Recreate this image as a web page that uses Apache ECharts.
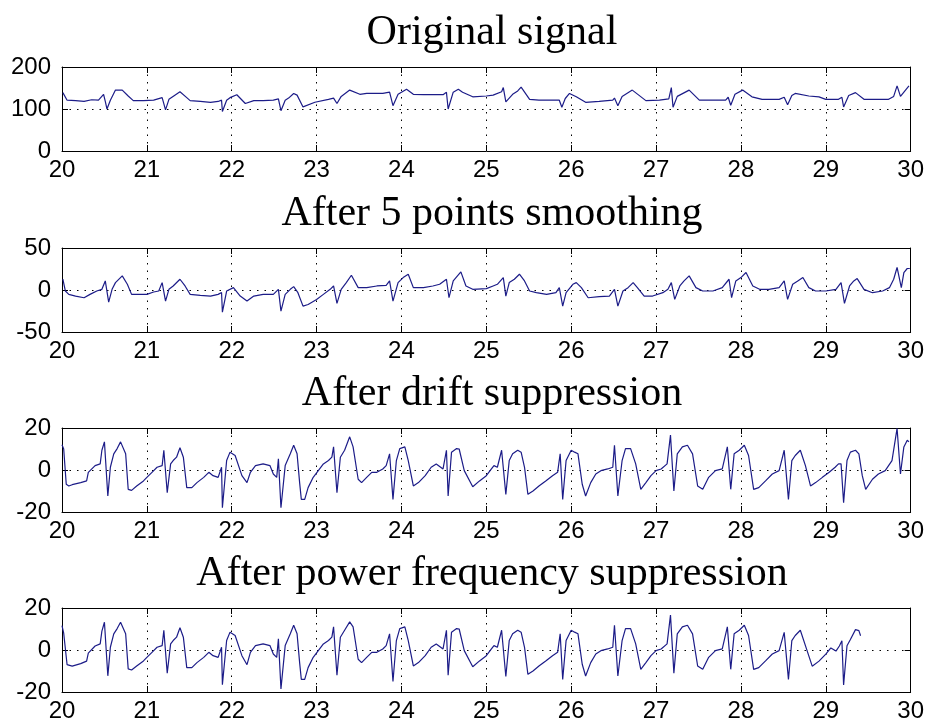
<!DOCTYPE html>
<html>
<head>
<meta charset="utf-8">
<script src="https://cdn.jsdelivr.net/npm/echarts@6/dist/echarts.min.js"></script>
<style>
  html, body { margin: 0; padding: 0; background: #fff; }
  #chart { width: 927px; height: 726px; }
</style>
</head>
<body>
<div id="chart"></div>
<script>
// panel titles and axis ranges [min, max, interval]
const titles = ['Original signal', 'After 5 points smoothing', 'After drift suppression', 'After power frequency suppression']
const xRange = [20, 30, 1]
const yRanges = [[0, 200, 100], [-50, 50, 50], [-20, 20, 20], [-20, 20, 20]]

// [time (s), amplitude]
const originalSignal = [
  [20.01, 139], [20.06, 121], [20.16, 120], [20.26, 118], [20.35, 122], [20.43, 121], [20.49, 135], [20.51, 118], [20.53, 100], [20.57, 121],
  [20.63, 145], [20.71, 145], [20.78, 131], [20.84, 120], [20.96, 120], [21.08, 121], [21.18, 127], [21.20, 131], [21.22, 98], [21.26, 123],
  [21.33, 133], [21.39, 141], [21.47, 127], [21.51, 120], [21.63, 118], [21.75, 116], [21.84, 118], [21.88, 121], [21.89, 94], [21.94, 121],
  [21.98, 127], [22.06, 134], [22.16, 113], [22.26, 120], [22.37, 120], [22.49, 121], [22.55, 124], [22.58, 96], [22.63, 121], [22.67, 126],
  [22.73, 137], [22.77, 133], [22.84, 105], [22.98, 116], [23.14, 123], [23.20, 126], [23.24, 113], [23.29, 130], [23.39, 145], [23.51, 135],
  [23.59, 137], [23.78, 137], [23.86, 140], [23.90, 108], [23.96, 135], [24.06, 147], [24.14, 135], [24.26, 134], [24.49, 134], [24.53, 140],
  [24.55, 100], [24.61, 140], [24.67, 147], [24.72, 140], [24.84, 129], [25.00, 131], [25.08, 133], [25.18, 141], [25.20, 151], [25.23, 117],
  [25.31, 135], [25.37, 143], [25.41, 152], [25.51, 123], [25.62, 121], [25.86, 121], [25.88, 125], [25.89, 104], [25.93, 125], [25.98, 137],
  [26.06, 129], [26.17, 116], [26.33, 118], [26.49, 121], [26.51, 126], [26.55, 108], [26.60, 130], [26.72, 145], [26.88, 120], [27.04, 121],
  [27.15, 124], [27.18, 151], [27.20, 104], [27.25, 130], [27.39, 145], [27.51, 121], [27.65, 121], [27.82, 121], [27.85, 128], [27.88, 109],
  [27.93, 135], [28.02, 145], [28.13, 129], [28.25, 123], [28.45, 123], [28.51, 128], [28.55, 110], [28.60, 132], [28.64, 137], [28.80, 131],
  [28.92, 129], [29.00, 123], [29.15, 123], [29.19, 128], [29.21, 105], [29.27, 132], [29.35, 139], [29.45, 123], [29.60, 123], [29.74, 123],
  [29.80, 130], [29.84, 155], [29.88, 130], [29.98, 155]
]

const smoothedSignal = [
  [20.01, 12.8], [20.04, -1.2], [20.08, -5.2], [20.16, -7.2], [20.26, -9.2], [20.33, -5.2], [20.41, -1.2], [20.47, 0.8], [20.51, 10.8], [20.55, -14.4],
  [20.59, 0.8], [20.63, 8.8], [20.71, 16.8], [20.77, 6.8], [20.82, -5.2], [20.92, -5.2], [21.00, -5.2], [21.08, -2.4], [21.14, -1.2], [21.18, 8.8],
  [21.22, -13.2], [21.26, 0.8], [21.31, 4.8], [21.39, 12.8], [21.45, 4.8], [21.51, -5.2], [21.63, -6.4], [21.75, -7.2], [21.84, -5.2], [21.88, -3],
  [21.89, -26.4], [21.94, -1.2], [22.02, 2.8], [22.10, -7.2], [22.18, -13.2], [22.26, -7.2], [22.37, -5.2], [22.49, -5.2], [22.55, 0.8], [22.58, -25.2],
  [22.63, -5.2], [22.69, 0.8], [22.73, 4], [22.78, -3.2], [22.84, -19.2], [22.90, -17.2], [23.00, -11.2], [23.08, -5.2], [23.16, 0.8], [23.20, 4.8],
  [23.24, -16], [23.29, 0.8], [23.35, 8.8], [23.41, 17.6], [23.49, 2.8], [23.59, 2.8], [23.71, 4.8], [23.82, 5.6], [23.86, 10.8], [23.90, -13.2],
  [23.96, 8.8], [24.02, 14.8], [24.08, 18.8], [24.14, 2.8], [24.26, 2.8], [24.37, 4.8], [24.45, 6.8], [24.53, 12.8], [24.56, -9.2], [24.61, 10.8],
  [24.70, 21.6], [24.76, 4.8], [24.84, 0.8], [25.00, 1.6], [25.08, 4.8], [25.13, 6.8], [25.20, 14.8], [25.23, -7.2], [25.27, 8.8], [25.33, 12.8],
  [25.39, 18.8], [25.45, 10.8], [25.51, -1.2], [25.59, -3.2], [25.71, -5.2], [25.82, -3.2], [25.86, 2.8], [25.90, -19.2], [25.94, -3.2], [26.02, 6.8],
  [26.06, 8.8], [26.12, 2.8], [26.20, -9.2], [26.33, -8], [26.45, -7.2], [26.51, 0.8], [26.55, -19.2], [26.61, -1.2], [26.67, 2.8], [26.73, 8.8],
  [26.78, 2.8], [26.86, -7.2], [26.96, -7.2], [27.08, -3.2], [27.14, 0.8], [27.18, 8.8], [27.22, -11.2], [27.28, 4.8], [27.33, 10.8], [27.39, 16.8],
  [27.47, 2.8], [27.55, -1.2], [27.67, -1.2], [27.78, 2.8], [27.86, 12.8], [27.89, -9.2], [27.94, 10.8], [28.00, 14.8], [28.06, 20.8], [28.14, 4.8],
  [28.22, 0.8], [28.33, 0.8], [28.45, 2.8], [28.51, 10.8], [28.55, -11.2], [28.61, 6.8], [28.67, 10.8], [28.73, 14.8], [28.80, 2.8], [28.88, -1.2],
  [29.00, -1.2], [29.12, 0.8], [29.18, 8.8], [29.22, -16], [29.28, 4.8], [29.33, 10.8], [29.37, 13.6], [29.45, 0.8], [29.55, -3.2], [29.67, -1.2],
  [29.75, 2.8], [29.80, 12.8], [29.84, 26.8], [29.89, 2.8], [29.92, 20.8], [29.96, 25.6], [29.99, 25.6]
]

const driftSignal = [
  [20.00, 12], [20.02, 10], [20.05, -6.8], [20.08, -7.6], [20.12, -7], [20.22, -6], [20.29, -5.2], [20.31, -1.1], [20.39, 2.1], [20.45, 2.9],
  [20.47, 9.4], [20.50, 13.4], [20.54, -12.4], [20.57, 1.3], [20.61, 7.7], [20.65, 10.2], [20.69, 13.4], [20.75, 7.7], [20.78, -9.2], [20.82, -9.7],
  [20.88, -7.6], [20.96, -5.2], [21.00, -3.5], [21.06, -1.1], [21.12, 1.3], [21.18, 2.1], [21.20, 9.4], [21.24, -10.8], [21.28, 2.9], [21.31, 4.5],
  [21.35, 6.1], [21.39, 10.6], [21.43, 6.1], [21.47, -8.4], [21.53, -8.4], [21.59, -6], [21.67, -3.5], [21.73, -1.1], [21.78, -2.7], [21.84, -3.5],
  [21.88, 1.3], [21.89, -18], [21.94, 4.5], [21.98, 8.5], [22.04, 6.9], [22.12, -2.7], [22.18, -6], [22.22, -1.1], [22.28, 2.1], [22.37, 2.9],
  [22.45, 2.1], [22.49, -1.9], [22.53, -3.5], [22.55, 5.3], [22.58, -18], [22.63, 2.1], [22.69, 7.7], [22.73, 11.8], [22.77, 7.7], [22.80, -6],
  [22.82, -14], [22.86, -14], [22.90, -8.4], [22.96, -3.5], [23.02, -0.3], [23.08, 2.9], [23.14, 4.5], [23.18, 6.1], [23.20, 11], [23.24, -10.8],
  [23.28, 6.1], [23.33, 9.4], [23.39, 15.8], [23.43, 11], [23.49, -4.4], [23.53, -6], [23.59, -3.5], [23.65, -1.1], [23.71, -1.1], [23.78, 0.5],
  [23.82, 2.1], [23.86, 7.7], [23.90, -14], [23.94, 4.5], [23.98, 10.2], [24.04, 11], [24.08, 4.5], [24.14, -7.6], [24.20, -6], [24.28, -2.7],
  [24.35, 1.3], [24.41, 2.9], [24.49, 0.5], [24.53, 9.4], [24.55, -12.4], [24.59, 8.5], [24.65, 10.2], [24.68, 10], [24.74, -0.3], [24.84, -8],
  [24.92, -5.2], [25.00, -2.7], [25.06, 0.5], [25.09, 2.1], [25.13, 1.3], [25.18, 9.4], [25.23, -11.6], [25.27, 4.5], [25.31, 7.7], [25.37, 9.4],
  [25.41, 8.5], [25.45, 1.3], [25.49, -11.6], [25.55, -10], [25.62, -7.6], [25.70, -5.2], [25.78, -2.7], [25.84, -1.1], [25.87, 7.7], [25.90, -14],
  [25.94, 4.5], [26.00, 9.4], [26.04, 8.5], [26.08, 7.7], [26.13, -6.8], [26.17, -12.4], [26.23, -6], [26.29, -1.9], [26.35, -0.3], [26.43, 0.5],
  [26.49, 1.3], [26.51, 11.8], [26.55, -12.4], [26.60, 4.5], [26.64, 10.2], [26.70, 10.2], [26.76, 2.9], [26.82, -9.2], [26.88, -6], [26.94, -2.7],
  [27.00, -0.3], [27.06, 0.5], [27.13, 2.9], [27.17, 16.6], [27.21, -10], [27.25, 7.7], [27.31, 11], [27.37, 11.8], [27.43, 7.7], [27.49, -7.6],
  [27.55, -9.2], [27.62, -3.5], [27.70, -0.3], [27.78, 0.5], [27.84, 11], [27.88, -9.2], [27.92, 7.7], [27.98, 9.4], [28.04, 11.8], [28.09, 6.9],
  [28.15, -9.2], [28.21, -8.4], [28.29, -5.2], [28.37, -1.9], [28.45, -0.3], [28.51, 9.4], [28.56, -14], [28.60, 4.5], [28.64, 6.9], [28.70, 9.4],
  [28.76, 2.1], [28.82, -7.6], [28.88, -6], [28.96, -3.5], [29.04, -1.1], [29.11, 1.3], [29.15, 2.9], [29.18, 2.9], [29.21, -15.6], [29.25, 4.5],
  [29.29, 8.5], [29.35, 9.4], [29.39, 7.7], [29.43, -2.7], [29.47, -9.2], [29.55, -4.4], [29.62, -1.9], [29.70, -0.3], [29.78, 4.5], [29.84, 19.8],
  [29.88, -1.9], [29.92, 11], [29.96, 14.2], [29.98, 13.4]
]

const powerSignal = [
  [20.00, 11.6], [20.02, 8], [20.06, -7], [20.12, -7.7], [20.22, -6.5], [20.29, -5.3], [20.31, -1.5], [20.39, 1.9], [20.45, 2.9], [20.47, 9],
  [20.50, 13.2], [20.54, -12.3], [20.57, 1.3], [20.61, 7.7], [20.65, 10.2], [20.69, 13.2], [20.75, 7.7], [20.78, -9], [20.82, -9.5], [20.88, -7.6],
  [20.96, -5.2], [21.00, -3.5], [21.06, -1.1], [21.12, 1.3], [21.18, 2.1], [21.20, 9.4], [21.24, -11], [21.28, 2.9], [21.31, 4.5], [21.35, 6.1],
  [21.39, 10.6], [21.43, 6.1], [21.47, -8.4], [21.53, -8.4], [21.59, -6], [21.67, -3.5], [21.73, -1.1], [21.78, -2.7], [21.84, -3.5], [21.88, 1.3],
  [21.89, -16.5], [21.94, 4.5], [21.98, 8.5], [22.04, 6.9], [22.12, -2.7], [22.18, -7], [22.22, -1.1], [22.28, 2.1], [22.37, 2.9], [22.45, 2.1],
  [22.49, -1.9], [22.53, -3.5], [22.55, 5.3], [22.58, -18.5], [22.63, 2.1], [22.69, 7.7], [22.73, 11.8], [22.77, 7.7], [22.80, -6], [22.82, -14],
  [22.86, -14], [22.90, -8.4], [22.96, -3.5], [23.02, -0.3], [23.08, 2.9], [23.14, 4.5], [23.18, 6.1], [23.20, 11], [23.24, -12], [23.28, 6.1],
  [23.33, 9.4], [23.39, 13.4], [23.43, 11], [23.49, -4.4], [23.53, -6], [23.59, -3.5], [23.65, -1.1], [23.71, -1.1], [23.78, 0.5], [23.82, 2.1],
  [23.86, 7.7], [23.90, -15], [23.94, 4.5], [23.98, 10.2], [24.04, 11], [24.08, 4.5], [24.14, -7.6], [24.20, -6], [24.28, -2.7], [24.35, 1.3],
  [24.41, 2.9], [24.49, 0.5], [24.53, 9.4], [24.55, -12], [24.59, 8.5], [24.65, 10.2], [24.68, 10], [24.74, -0.3], [24.84, -8], [24.92, -5.2],
  [25.00, -2.7], [25.06, 0.5], [25.09, 2.1], [25.13, 1.3], [25.18, 9.4], [25.23, -12.6], [25.27, 4.5], [25.31, 7.7], [25.37, 9.4], [25.41, 8.5],
  [25.45, 1.3], [25.49, -11.6], [25.55, -10], [25.62, -7.6], [25.70, -5.2], [25.78, -2.7], [25.84, -1.1], [25.87, 7.7], [25.90, -14], [25.94, 4.5],
  [26.00, 9.4], [26.04, 8.5], [26.08, 7.7], [26.13, -6.8], [26.17, -12.4], [26.23, -6], [26.29, -1.9], [26.35, -0.3], [26.43, 0.5], [26.49, 1.3],
  [26.51, 11.8], [26.55, -12.4], [26.60, 4.5], [26.64, 10.2], [26.70, 10.2], [26.76, 2.9], [26.82, -9.2], [26.88, -6], [26.94, -2.7], [27.00, -0.3],
  [27.06, 0.5], [27.13, 2.9], [27.17, 16.6], [27.21, -11], [27.25, 7.7], [27.31, 11], [27.37, 11.8], [27.43, 7.7], [27.49, -7.6], [27.55, -9.2],
  [27.62, -3.5], [27.70, -0.3], [27.78, 0.5], [27.84, 11], [27.88, -9.2], [27.92, 7.7], [27.98, 9.4], [28.04, 11.8], [28.09, 6.9], [28.15, -9.2],
  [28.21, -8.4], [28.29, -5.2], [28.37, -1.9], [28.45, -0.3], [28.51, 8.4], [28.56, -14], [28.60, 4.5], [28.64, 6.9], [28.70, 9.4], [28.76, 2.1],
  [28.84, -7.7], [28.92, -5.3], [29.00, -2], [29.06, 1], [29.12, -0.5], [29.16, 1.9], [29.19, 4.4], [29.21, -16.6], [29.25, 2], [29.29, 5],
  [29.35, 9.7], [29.39, 9.2], [29.41, 6.8]
]

const signals = [originalSignal, smoothedSignal, driftSignal, powerSignal]

const gridTops = [67, 248, 428, 608]
const lineColor = '#1c1c88'
const sansFont = 'Liberation Sans, Arial, sans-serif'
const serifFont = 'Liberation Serif, Times New Roman, serif'

const chart = echarts.init(document.getElementById('chart'), null, { renderer: 'canvas' })

const tickStyle = { show: true, inside: true, length: 6, lineStyle: { color: '#000', width: 1 } }
const axisLineStyle = { show: true, onZero: false, lineStyle: { color: '#000', width: 1 } }
const dotted = { show: true, lineStyle: { color: '#000', width: 1, type: [1.5, 6] } }

const grid = []
const xAxis = []
const yAxis = []
const series = []
const title = []

signals.forEach((data, i) => {
  const [ymin, ymax, yint] = yRanges[i]
  grid.push({ left: 62, right: 15, top: gridTops[i], height: 84 })

  title.push({
    text: titles[i],
    left: 487,
    top: gridTops[i] - 60,
    textAlign: 'center',
    textStyle: { fontFamily: serifFont, fontSize: 42, fontWeight: 'normal', color: '#000' }
  })

  // bottom axis with labels, top axis only ticks
  xAxis.push({
    type: 'value', gridIndex: i, position: 'bottom',
    min: xRange[0], max: xRange[1], interval: xRange[2],
    axisLine: axisLineStyle, axisTick: tickStyle,
    axisLabel: { color: '#000', fontSize: 24, fontFamily: sansFont, margin: 7 },
    splitLine: dotted
  })
  xAxis.push({
    type: 'value', gridIndex: i, position: 'top',
    min: xRange[0], max: xRange[1], interval: xRange[2],
    axisLine: axisLineStyle, axisTick: tickStyle,
    axisLabel: { show: false }, splitLine: { show: false }
  })

  yAxis.push({
    type: 'value', gridIndex: i, position: 'left',
    min: ymin, max: ymax, interval: yint,
    axisLine: axisLineStyle, axisTick: tickStyle,
    axisLabel: { color: '#000', fontSize: 24, fontFamily: sansFont, margin: 11 },
    splitLine: dotted
  })
  yAxis.push({
    type: 'value', gridIndex: i, position: 'right',
    min: ymin, max: ymax, interval: yint,
    axisLine: axisLineStyle, axisTick: tickStyle,
    axisLabel: { show: false }, splitLine: { show: false }
  })

  series.push({
    type: 'line',
    name: titles[i],
    xAxisIndex: i * 2,
    yAxisIndex: i * 2,
    data: data,
    symbol: 'none',
    clip: true,
    lineStyle: { color: lineColor, width: 1.2 }
  })
})

chart.setOption({
  animation: false,
  backgroundColor: '#fff',
  title,
  grid,
  xAxis,
  yAxis,
  series
})
</script>
</body>
</html>
